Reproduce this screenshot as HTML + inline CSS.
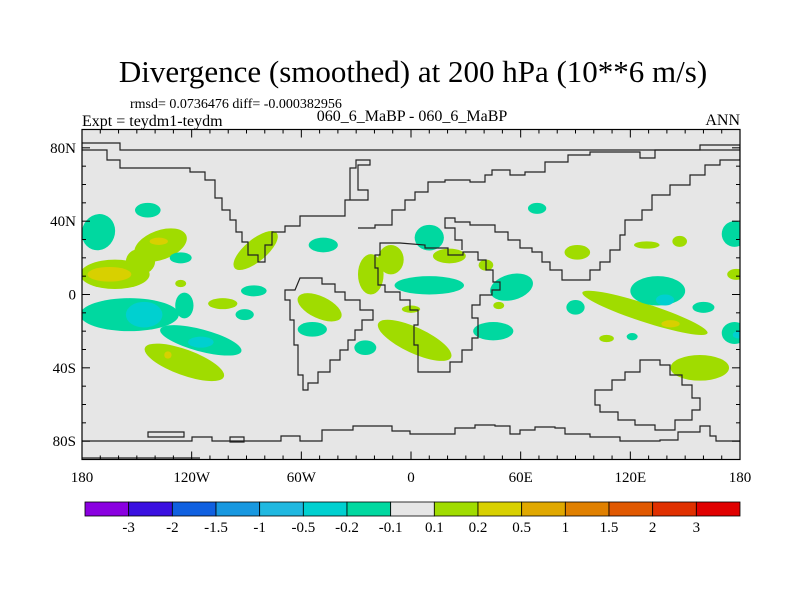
<!DOCTYPE html>
<html><head><meta charset="utf-8">
<style>
body{margin:0;background:#fff;}
svg text{font-family:"Liberation Serif",serif;fill:#000;}
</style></head>
<body>
<svg id="chart" width="800" height="600" viewBox="0 0 800 600" xmlns="http://www.w3.org/2000/svg">
<rect width="800" height="600" fill="#fff"/>
<text x="413" y="82" font-size="31" text-anchor="middle">Divergence (smoothed) at 200 hPa (10**6 m/s)</text>
<text x="130" y="108" font-size="14">rmsd= 0.0736476 diff= -0.000382956</text>
<text x="82" y="126" font-size="16">Expt = teydm1-teydm</text>
<text x="412" y="121" font-size="16" text-anchor="middle">060_6_MaBP - 060_6_MaBP</text>
<text x="740" y="125" font-size="16" text-anchor="end">ANN</text>
<g id="plot"></g>
<g id="cbar"></g>
</svg>
<script>
const levelColors=["#8a00e0","#3a10e0","#1060e0","#1898e0","#20b8e0","#00d0d0","#00d8a0","#e6e6e6","#a0dc00","#d8d000","#e0a800","#e08000","#e05800","#e03000","#e00000"];
const levelLabels=["-3","-2","-1.5","-1","-0.5","-0.2","-0.1","0.1","0.2","0.5","1","1.5","2","3"];
const lonTicks=[-180,-120,-60,0,60,120,180];
const lonTickLabels=["180","120W","60W","0","60E","120E","180"];
const latTicks=[80,40,0,-40,-80];
const latTickLabels=["80N","40N","0","40S","80S"];
// blobs: lon, lat, radius lon, radius lat, color index, rotation
const blobLon=[-171,-144,-162,-137,-148,-165,-138,-126,-126,-154,-124,-146,-115,-115,-124,-133,-85,-86,-103,-91,-48,-50,-54,-25,-22,-11,10,21,10,41,55,0,48,45,2,69,91,128,142,90,135,139,160,129,147,158,177,178,177,179,107,121];
const blobLat=[34,46,11,27,18,11,29,20,6,-11,-6,-11,-25,-26,-37,-33,24,2,-5,-11,27,-7,-19,-29,11,19,31,21,5,16,4,-8,-6,-20,-25,47,23,-10,-16,-7,2,-3,-7,27,29,-40,33,11,-21,-22,-24,-23];
const blobRLon=[9,7,19,15,8,12,5,6,3,27,5,10,23,7,23,2,15,7,8,5,8,13,8,6,7,7,8,9,19,4,12,5,3,11,22,5,7,36,5,5,15,5,6,7,4,16,7,5,7,3,4,3];
const blobRLat=[10,4,8,8,7,4,2,3,2,9,7,7,6,3,7,2,6,3,3,3,4,6,4,4,11,8,7,4,5,3,7,2,2,5,7,3,4,5,2,4,8,3,3,2,3,7,7,3,6,2,2,2];
const blobLevel=[6,6,8,8,8,9,9,6,8,6,6,5,6,5,8,9,8,6,8,6,6,8,6,6,8,8,6,8,6,8,6,8,8,6,8,6,8,8,9,6,6,5,6,8,8,8,6,8,6,5,8,6];
const blobRot=[20,0,0,-20,0,0,0,0,0,0,0,0,15,0,20,0,-40,0,0,0,0,25,0,0,0,0,0,0,0,0,-15,0,0,0,25,0,0,18,0,0,0,0,0,0,0,0,0,0,0,0,0,0];

const X0=82,X1=740,Y0=129.5,Y1=459.5;
const xOf=lon=>X0+(lon+180)/360*(X1-X0);
const yOf=lat=>Y0+(90-lat)/180*(Y1-Y0);
const kx=(X1-X0)/360, ky=(Y1-Y0)/180;
const NS="http://www.w3.org/2000/svg";
const plot=document.getElementById('plot');
function mk(tag,attrs,parent){const e=document.createElementNS(NS,tag);for(const k in attrs)e.setAttribute(k,attrs[k]);parent.appendChild(e);return e;}

const bg=mk('rect',{x:X0,y:Y0,width:X1-X0,height:Y1-Y0,fill:'#e6e6e6'},plot);


const clip=mk('clipPath',{id:'pc'},plot);mk('rect',{x:X0,y:Y0,width:X1-X0,height:Y1-Y0},clip);
const bl=mk('g',{'clip-path':'url(#pc)'},plot);
for(let i=0;i<blobLon.length;i++){
  const cx=xOf(blobLon[i]),cy=yOf(blobLat[i]);
  const e=mk('ellipse',{cx:cx,cy:cy,rx:blobRLon[i]*kx,ry:blobRLat[i]*ky,fill:levelColors[blobLevel[i]],transform:`rotate(${blobRot[i]} ${cx} ${cy})`},bl);
  
  
}
const coasts=[
"M82,143 H120 V150 H740",
"M82,150 H107 V160 H120 V168 H190 L190,172 H205 V180 H215 V198 H222 V210 H230 V220 H236 V232 H242 V242 H248 V255 H258 V262 H265 V245 H272 V232 H285 V226 H300 V216 H345 V200 H350 V168 H356 V160 H370 V165 H358 V190 H368 V200 H345",
"M300,278 H322 V284 H335 V292 H345 V300 H360 V310 H373 V320 H362 V330 H355 V340 H348 V350 H340 V360 H330 V372 H318 V383 H308 V390 H303 V375 H298 V345 H294 V320 H290 V300 H285 V290 H295 Z",
"M400,243 H380 V255 H375 V268 H378 V285 H385 V292 H400 V300 H410 V310 H418 V325 H414 V345 H418 V372 H450 V362 H462 V350 H472 V338 H478 V318 H472 V305 H480 V295 H492 V290 H500 V282 H493 V270 H486 V260 H478 V252 H463 V255 H448 V248 H425 V245 Z",
"M358,228 H375 V225 H392 V210 H405 V200 H415 V192 H428 V182 H445 V180 H470 V182 H485 V175 H492 V170 H510 V175 H525 V172 H545 V162 H568 V155 H590 V152 H640 V158 H655 V150 H700 V145 H740 V160 H720 V165 H705 V175 H690 V185 H670 V195 H652 V210 H642 V220 H625 V235 H620 V250 H610 V262 H600 V270 H590 V280 H572 V280 H562 V270 H550 V262 H542 V252 H532 V248 H520 V240 H508 V232 H495 V225 H470 V222 H455 V218 H445 V228 H455 V240 H462 V250",
"M595,390 H612 V380 H625 V372 H640 V360 H660 V365 H670 V375 H682 V385 H692 V398 H700 V410 H692 V420 H675 V430 H655 V425 H635 V420 H618 V412 H600 V405 H595 Z",
"M82,441 H192 V437 H212 V441 H281 V436 H300 V441 H322 V430 H353 V426 H392 V431 H410 V434 H455 V428 H475 V425 H495 V426 H510 V434 H520 V430 H535 V427 H555 V428 H565 V434 H590 V437 H620 V441 H660 V440 H678 V432 H700 V426 H710 V436 H716 V441 H740",
"M148,432 H184 V437 H148 Z","M230,437 H244 V442 H230 Z","M82,458 H200"
];
const cg=mk('g',{'clip-path':'url(#pc)',fill:'none',stroke:'#222','stroke-width':1.2},plot);
coasts.forEach(d=>{const p=mk('path',{d:d},cg);});
mk('rect',{x:X0,y:Y0,width:X1-X0,height:Y1-Y0,fill:'none',stroke:'#000','stroke-width':1.2},plot);
for(let lon=-180;lon<=180;lon+=10){
  const x=xOf(lon),L=lon%60===0?8:4;
  mk('line',{x1:x,x2:x,y1:Y0,y2:Y0+L,stroke:'#000'},plot);
  mk('line',{x1:x,x2:x,y1:Y1,y2:Y1-L,stroke:'#000'},plot);
}
for(let lat=-90;lat<=90;lat+=10){
  const y=yOf(lat),L=lat%40===0?8:4;
  mk('line',{x1:X0,x2:X0+L,y1:y,y2:y,stroke:'#000'},plot);
  mk('line',{x1:X1,x2:X1-L,y1:y,y2:y,stroke:'#000'},plot);
}
lonTicks.forEach((v,i)=>{const t=mk('text',{x:xOf(v),y:482,'font-size':15,'text-anchor':'middle'},plot);t.textContent=lonTickLabels[i];

});
latTicks.forEach((v,i)=>{const t=mk('text',{x:76,y:yOf(v)+5,'font-size':15,'text-anchor':'end'},plot);t.textContent=latTickLabels[i];

});
const cb=document.getElementById('cbar');
const CB0=85,CB1=740,CBY=502,CBH=14,w=(CB1-CB0)/levelColors.length;
levelColors.forEach((c,i)=>{const r=mk('rect',{x:CB0+i*w,y:CBY,width:w,height:CBH,fill:c,stroke:'#000','stroke-width':0.8},cb);

});
levelLabels.forEach((s,i)=>{const t=mk('text',{x:CB0+(i+1)*w,y:532,'font-size':15,'text-anchor':'middle'},cb);t.textContent=s;

});
</script>
</body></html>
